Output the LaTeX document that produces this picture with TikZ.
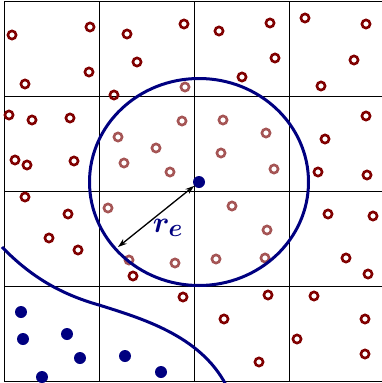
\documentclass[tikz,border=0pt]{standalone}
\usepackage{amsmath}
\usepackage{tikz}
\usepackage{xcolor}
\usetikzlibrary{arrows.meta}
\definecolor{escuro}{RGB}{128,0,0}
\definecolor{claro}{RGB}{165,85,85}
\definecolor{azul}{RGB}{0,0,128}
\tikzset{
  aberto/.style={draw=escuro, line width=2.6pt},
  fraco/.style={draw=claro, line width=2.6pt},
  cheio/.style={fill=azul}
}

\begin{document}
\begin{tikzpicture}[x=1pt,y=-1pt]
\useasboundingbox (0,0) rectangle (382,383);
% Grade 4x4
\foreach \k in {0,1,2,3,4} {
    \draw[line width=0.8pt] (4+95*\k,1) -- (4+95*\k,381);
    \draw[line width=0.8pt] (4,1+95*\k) -- (384,1+95*\k);
}

% Pontos fora da vizinhanca
\foreach \p in {(12,35),(90,27),(127,34),(184,24),(137,62),(89,72),(25,84),(114,95),
    (9,115),(32,120),(70,118),(15,160),(27,165),(74,161),(25,197),(68,214),(49,238),
    (78,250),(133,276),(183,297),(219,31),(270,23),(305,18),(366,24),(275,58),(242,77),
    (354,60),(321,86),(366,116),(325,139),(318,172),(367,175),(328,214),(373,216),
    (346,258),(368,274),(268,295),(314,296),(224,319),(365,319),(297,339),(365,354),(259,362)} {
    \draw[aberto] \p circle (4.1pt);
}

% Pontos dentro da vizinhanca
\foreach \p in {(185,87),(182,121),(118,137),(156,148),(124,163),(170,172),(223,120),
    (266,133),(221,153),(274,169),(108,208),(129,260),(175,263),(232,206),(267,230),
    (216,259),(265,258)} {
    \draw[fraco] \p circle (4.1pt);
}

% Outra classe
\foreach \p in {(21,312),(23,339),(67,334),(80,358),(42,377),(125,356),(161,372)} {
    \fill[cheio] \p circle (6pt);
}

% Fronteira
\draw[azul, line width=3pt] (2,247) .. controls (30,276) and (60,294) .. (99,305)
    .. controls (140,318) and (200,335) .. (226,385);

% Vizinhanca de raio r_e
\node[circle, cheio, inner sep=0pt, minimum size=12pt] (ctr) at (199,182) {};
\draw[azul, line width=3pt] (ctr.center) ellipse [x radius=109.5pt, y radius=103.5pt];
\coordinate (borda) at (118,247);
\draw[{Stealth[length=9pt,width=6pt]}-{Stealth[length=9pt,width=6pt]}, line width=1.3pt] (ctr) -- (borda);
\node[azul, scale=1.2] (raio) at (168,228) {\Huge $\boldsymbol{r_e}$};
\end{tikzpicture}
\end{document}
